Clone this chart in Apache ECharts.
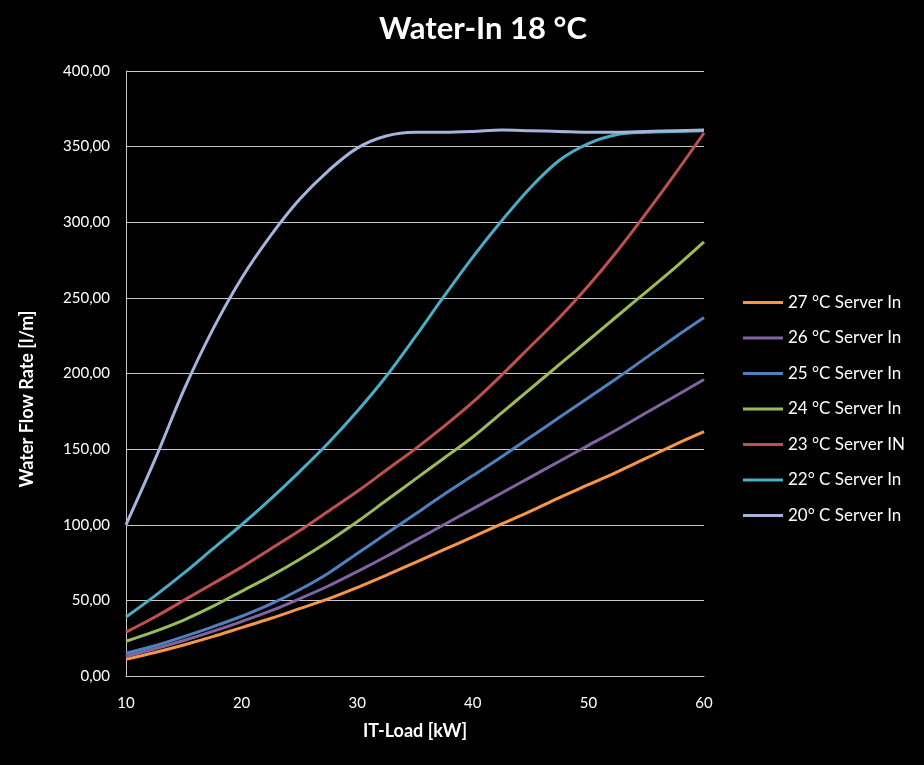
<!DOCTYPE html>
<html>
<head>
<meta charset="utf-8">
<script src="https://cdn.jsdelivr.net/npm/echarts@6/dist/echarts.min.js"></script>
<style>
html,body{margin:0;padding:0;background:#000;}
#c{width:924px;height:765px;}
</style>
</head>
<body>
<div id="c"></div>
<script>
const itLoad = [10,12.5,15,17.5,20,22.5,25,27.5,30,32.5,35,37.5,40,42.5,45,47.5,50,52.5,55,57.5,60];
const s27 = [11,15.5,20.5,26,32,38,44.5,51,58.5,66.5,75,83.5,92,100.5,109,118,126.5,135,144,153,161.5];
const s26 = [13,18,23.5,29.5,36,43,51,59.5,69,79,89.5,100,110.5,121,131.5,142,152.5,163,174,185,196];
const s25 = [15,20,26,32.5,39.5,47.5,57,68,81,94,107,120,132.5,145,158,171,184,197,210.5,224,237];
const s24 = [23,29.5,37,46,56,66,77,89,102,116,130,144,158,174,190,206,222,238,254,270,287];
const s23 = [29,39,50,61,72,84,96,109,122,136,150,165,181,199,218,237,258,281,306,332,359];
const s22 = [39,53,68,84,100,117,135,154,175,198,224,251,277,301,323,341,352,358,359.5,360,360.5];
const s20 = [100,143,189,229,263,291,315,334,349,357,359.5,359.5,360,361,360.5,360,359.5,359.5,360,360.5,361];
const seriesNames = ['27 °C Server In','26 °C Server In','25 °C Server In','24 °C Server In','23 °C Server IN','22° C Server In','20° C Server In'];
const seriesData = [s27,s26,s25,s24,s23,s22,s20];
const colors = ['#F79646','#8064A2','#4F81BD','#9BBB59','#C0504D','#4BACC6','#A3B5DD'];
const xTicks = [10,20,30,40,50,60];
const yTicks = [0,50,100,150,200,250,300,350,400];

const font = 'Lato, "Open Sans", sans-serif';
const chart = echarts.init(document.getElementById('c'), null, {renderer:'canvas'});
chart.setOption({
  backgroundColor:'#000',
  animation:false,
  color: colors,
  title:{
    text:'Water-In 18 °C',
    left:478, top:8, textAlign:'center',
    textStyle:{color:'#fff', fontFamily:font, fontWeight:'bold', fontSize:31}
  },
  legend:{
    orient:'vertical',
    left:738, top:289,
    icon:'rect',
    itemWidth:40, itemHeight:3, itemGap:18.5,
    textStyle:{color:'#fff', fontFamily:font, fontSize:17},
    data: seriesNames
  },
  graphic:[{
    type:'text', x:27.5, y:399, rotation:Math.PI/2,
    style:{text:'Water Flow Rate [l/m]', fill:'#fff', font:'bold 18px Lato, "Open Sans", sans-serif',
      align:'center', verticalAlign:'middle'}
  }],
  grid:{left:126, right:220, top:71, bottom:89, containLabel:false},
  xAxis:{
    type:'value', min:xTicks[0], max:xTicks[xTicks.length-1], interval:10,
    name:'IT-Load [kW]', nameLocation:'middle', nameGap:46,
    nameTextStyle:{color:'#fff', fontFamily:font, fontWeight:'bold', fontSize:18},
    axisLine:{show:true, lineStyle:{color:'#c8c8c8', width:1}},
    axisTick:{show:false},
    axisLabel:{color:'#fff', fontFamily:font, fontSize:15, margin:20},
    splitLine:{show:false}
  },
  yAxis:{
    type:'value', min:yTicks[0], max:yTicks[yTicks.length-1], interval:50,
    axisLine:{show:true, lineStyle:{color:'#c8c8c8', width:1}},
    axisTick:{show:false},
    axisLabel:{color:'#fff', fontFamily:font, fontSize:15, margin:16,
      formatter:(v)=>v.toFixed(2).replace('.',',')},
    splitLine:{show:true, lineStyle:{color:'#c8c8c8', width:1}}
  },
  series: seriesNames.map((n,i)=>({
    name:n, type:'line', smooth:0.35, symbol:'none',
    lineStyle:{width:3, color:colors[i]},
    itemStyle:{color:colors[i]},
    data: itLoad.map((x,j)=>[x, seriesData[i][j]])
  }))
});
</script>
</body>
</html>
